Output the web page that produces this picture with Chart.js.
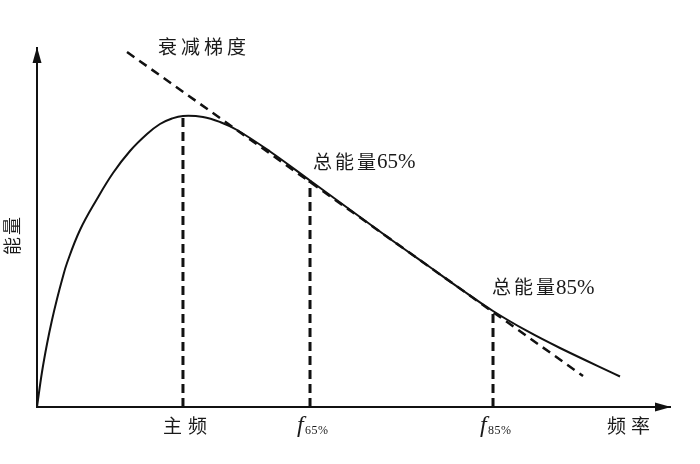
<!DOCTYPE html>
<html>
<head>
<meta charset="utf-8">
<script src="https://cdn.jsdelivr.net/npm/chart.js@4"></script>
<style>
  html, body { margin: 0; padding: 0; background: #fff; }
  #wrap { width: 700px; height: 464px; }
</style>
</head>
<body>
<div id="wrap"><canvas id="chart" width="700" height="464"></canvas></div>
<script>
// curve (frequency 0-100, energy 0-100, arbitrary units)
const freq   = [0, 0.79, 1.58, 2.37, 3.16, 3.95, 4.74, 6.79, 9.48, 12.01, 14.69, 17.38, 19.43, 21.33, 23.06,
                26.22, 28.91, 31.60, 36.81, 43.13, 48.97, 56.24, 61.61, 66.82, 72.04, 77.41, 82.62, 92.10];
const energy = [0, 9.75, 17.55, 24.23, 30.08, 35.38, 40.11, 49.30, 57.94, 65.18, 71.31, 76.04, 78.83, 80.36, 81.06,
                80.78, 79.39, 77.16, 71.17, 63.09, 55.57, 46.24, 39.55, 33.01, 26.74, 21.17, 16.43, 8.50];

// attenuation gradient (tangent) line
const slopeFreq   = [14.22, 86.26];
const slopeEnergy = [98.89, 8.64];

// main frequency, f65%, f85%
const markerFreq   = [23.06, 43.13, 72.04];
const markerEnergy = [81.06, 63.09, 26.74];
const markerLabels = ['主频', 'f65%', 'f85%'];

const xTitle = '频率';
const yTitle = '能量';
const slopeLabel = '衰减梯度';
const energyLabels = ['总能量65%', '总能量85%'];

const curve = freq.map((f, i) => ({ x: f, y: energy[i] }));
const slope = slopeFreq.map((f, i) => ({ x: f, y: slopeEnergy[i] }));

const markerSets = markerFreq.map((f, i) => ({
    data: [{ x: f, y: 0 }, { x: f, y: markerEnergy[i] }],
    showLine: true,
    borderColor: '#111',
    borderWidth: 3,
    borderDash: [9, 5],
    pointRadius: 0
}));

const CN = '"Noto Sans CJK SC", sans-serif';

// arrows, axis names and annotations
const decor = {
    id: 'decor',
    afterDraw(chart) {
        const ctx = chart.ctx;
        const xs = chart.scales.x, ys = chart.scales.y;
        const a = chart.chartArea;
        ctx.save();
        ctx.fillStyle = '#111';

        // arrow heads
        ctx.beginPath();
        ctx.moveTo(a.left, a.top - 1);
        ctx.lineTo(a.left - 4.5, a.top + 15);
        ctx.lineTo(a.left + 4.5, a.top + 15);
        ctx.closePath();
        ctx.fill();
        ctx.beginPath();
        ctx.moveTo(a.right + 1, a.bottom);
        ctx.lineTo(a.right - 15, a.bottom - 4.5);
        ctx.lineTo(a.right - 15, a.bottom + 4.5);
        ctx.closePath();
        ctx.fill();

        ctx.fillStyle = '#1a1a1a';
        ctx.textBaseline = 'middle';

        // axis titles
        ctx.font = '19px ' + CN;
        ctx.letterSpacing = '5px';
        ctx.textAlign = 'center';
        ctx.fillText(xTitle, 631, a.bottom + 19);
        ctx.save();
        ctx.translate(12, 235);
        ctx.rotate(-Math.PI / 2);
        ctx.letterSpacing = '2px';
        ctx.font = '18px ' + CN;
        ctx.fillText(yTitle, 0, 0);
        ctx.restore();

        // marker labels under the axis
        markerLabels.forEach((lab, i) => {
            const px = xs.getPixelForValue(markerFreq[i]);
            if (lab.startsWith('f')) {
                ctx.textAlign = 'left';
                ctx.textBaseline = 'alphabetic';
                ctx.letterSpacing = '0px';
                ctx.font = 'italic 24px "Liberation Serif", serif';
                ctx.fillText('f', px - 13, a.bottom + 25);
                ctx.font = '12px "Liberation Serif", serif';
                ctx.letterSpacing = '0.5px';
                ctx.fillText(lab.slice(1), px - 5, a.bottom + 27);
                ctx.textBaseline = 'middle';
            } else {
                ctx.textAlign = 'center';
                ctx.letterSpacing = '6px';
                ctx.font = '19px ' + CN;
                ctx.fillText(lab, px + 5, a.bottom + 19);
            }
        });

        // slope label
        ctx.textAlign = 'center';
        ctx.letterSpacing = '4px';
        ctx.font = '19px ' + CN;
        ctx.fillText(slopeLabel, xs.getPixelForValue(slopeFreq[0]) + 77, ys.getPixelForValue(slopeEnergy[0]) - 5);

        // energy share labels: chinese part, then the serif number
        ctx.textAlign = 'left';
        const offs = [[3, -19], [-1, -24]];
        energyLabels.forEach((lab, i) => {
            const px = xs.getPixelForValue(markerFreq[i + 1]) + offs[i][0];
            const py = ys.getPixelForValue(markerEnergy[i + 1]) + offs[i][1];
            const cn = lab.slice(0, 3), num = lab.slice(3);
            ctx.letterSpacing = '3px';
            ctx.font = '19px ' + CN;
            ctx.fillText(cn, px, py);
            const w = ctx.measureText(cn).width;
            ctx.letterSpacing = '0px';
            ctx.font = '21px "Liberation Serif", serif';
            ctx.fillText(num, px + w - 2, py + 1);
        });
        ctx.restore();
    }
};

new Chart(document.getElementById('chart'), {
    type: 'scatter',
    data: {
        datasets: [
            {
                data: curve,
                showLine: true,
                borderColor: '#111',
                borderWidth: 2,
                pointRadius: 0,
                tension: 0.4
            },
            {
                data: slope,
                showLine: true,
                borderColor: '#111',
                borderWidth: 2.5,
                borderDash: [9, 6],
                pointRadius: 0
            },
            ...markerSets
        ]
    },
    options: {
        responsive: false,
        animation: false,
        devicePixelRatio: 1,
        layout: { padding: { left: 29, top: 48, right: 30, bottom: 49 } },
        plugins: {
            legend: { display: false },
            tooltip: { enabled: false }
        },
        scales: {
            x: {
                type: 'linear', min: 0, max: 100,
                grid: { display: false },
                ticks: { display: false },
                border: { display: true, color: '#111', width: 2 }
            },
            y: {
                type: 'linear', min: 0, max: 100,
                grid: { display: false },
                ticks: { display: false },
                border: { display: true, color: '#111', width: 2 }
            }
        }
    },
    plugins: [decor]
});
</script>
</body>
</html>
